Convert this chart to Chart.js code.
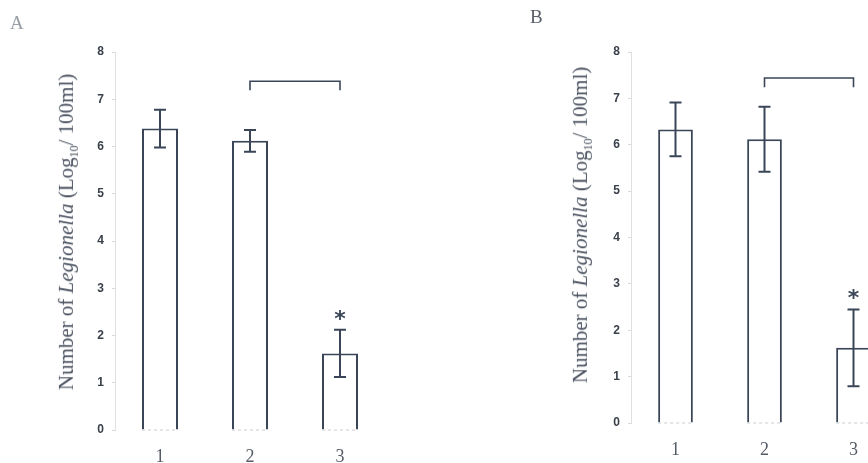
<!DOCTYPE html>
<html>
<head>
<meta charset="utf-8">
<script src="https://cdn.jsdelivr.net/npm/chart.js"></script>
<style>
  html, body { margin: 0; padding: 0; background: #fff; }
  #wrap { position: relative; width: 868px; height: 463px; overflow: hidden; background: #fff; }
  canvas { position: absolute; top: 0; }
  .panel { position: absolute; font-family: "Liberation Serif", serif; font-size: 19px; }
  .ytitle {
    position: absolute; white-space: nowrap;
    font-family: "Liberation Serif", serif; font-size: 21px; color: #4a5260;
    transform: translate(-50%, -50%) rotate(-90deg);
  }
  .ytitle sub { font-size: 12px; }
</style>
</head>
<body>
<div id="wrap">
  <canvas id="chartA" width="434" height="463" style="left:0"></canvas>
  <canvas id="chartB" width="500" height="463" style="left:434px"></canvas>
  <div class="panel" style="left:10px; top:12px; color:#9aa0a8;">A</div>
  <div class="panel" style="left:530px; top:6px; color:#5a606a;">B</div>
  <div class="ytitle" style="left:68px; top:232px;">Number of <i>Legionella</i> (Log<sub>10</sub>/ 100ml)</div>
  <div class="ytitle" style="left:582px; top:225px;">Number of <i>Legionella</i> (Log<sub>10</sub>/ 100ml)</div>
</div>
<script>
// groups on the x axis
const groups = ['1', '2', '3'];
const yTicks = [0, 1, 2, 3, 4, 5, 6, 7, 8];

// panel A
const meansA = [6.38, 6.12, 1.62];
const errA = [0.40, 0.23, 0.50];
// panel B
const meansB = [6.33, 6.12, 1.62];
const errB = [0.58, 0.70, 0.83];

// bracket between group 2 and 3, and significance mark on group 3
const bracketA = [7.38, 7.19];
const bracketB = [7.44, 7.24];
const starIndex = 2;

const ink = '#3a4658';

const errorBars = {
  id: 'errorBars',
  afterDatasetsDraw(chart, args, opts) {
    const ctx = chart.ctx;
    const x = chart.scales.x, y = chart.scales.y;
    ctx.save();
    ctx.strokeStyle = ink;
    ctx.lineWidth = 2;
    opts.means.forEach((m, i) => {
      const cx = x.getPixelForValue(i);
      const top = y.getPixelForValue(m + opts.err[i]);
      const bot = y.getPixelForValue(m - opts.err[i]);
      ctx.beginPath();
      ctx.moveTo(cx, top); ctx.lineTo(cx, bot);
      ctx.moveTo(cx - 6, top); ctx.lineTo(cx + 6, top);
      ctx.moveTo(cx - 6, bot); ctx.lineTo(cx + 6, bot);
      ctx.stroke();
    });
    // faint bottom edges of the bars
    const base = y.getPixelForValue(0);
    ctx.strokeStyle = '#c8ccd2';
    ctx.lineWidth = 1;
    ctx.setLineDash([3, 3]);
    chart.getDatasetMeta(0).data.forEach(b => {
      ctx.beginPath();
      ctx.moveTo(b.x - b.width / 2, base); ctx.lineTo(b.x + b.width / 2, base);
      ctx.stroke();
    });
    ctx.setLineDash([]);
    // bracket
    ctx.strokeStyle = ink;
    const x1 = x.getPixelForValue(1), x2 = x.getPixelForValue(2);
    const by = y.getPixelForValue(opts.bracket[0]);
    const bl = y.getPixelForValue(opts.bracket[1]);
    ctx.lineWidth = 1.6;
    ctx.beginPath();
    ctx.moveTo(x1, bl); ctx.lineTo(x1, by); ctx.lineTo(x2, by); ctx.lineTo(x2, bl);
    ctx.stroke();
    // asterisk
    const si = opts.star;
    const sy = y.getPixelForValue(opts.means[si] + opts.err[si]) - 14;
    ctx.fillStyle = ink;
    ctx.font = 'bold 22px "DejaVu Sans"';
    ctx.textAlign = 'center';
    ctx.textBaseline = 'middle';
    ctx.fillText('*', x.getPixelForValue(si), sy + 4);
    ctx.restore();
  }
};

function makeChart(id, means, err, bracket, yWidth, padRight, bottom, barPct) {
  return new Chart(document.getElementById(id), {
    type: 'bar',
    data: {
      labels: groups,
      datasets: [{
        data: means,
        backgroundColor: '#ffffff',
        borderColor: ink,
        borderWidth: 2,
        borderSkipped: 'bottom',
        barPercentage: barPct,
        categoryPercentage: 1
      }]
    },
    options: {
      responsive: false,
      animation: false,
      layout: { padding: { left: 0, right: padRight, top: 52, bottom: 0 } },
      plugins: {
        legend: { display: false },
        tooltip: { enabled: false },
        errorBars: { means: means, err: err, bracket: bracket, star: starIndex }
      },
      scales: {
        x: {
          grid: { display: false },
          border: { display: false },
          ticks: { color: '#555b66', font: { family: 'Liberation Serif', size: 18 }, padding: 8 },
          afterFit(s) { s.height = bottom; }
        },
        y: {
          min: 0, max: 8,
          afterBuildTicks(s) { s.ticks = yTicks.map(v => ({ value: v })); },
          grid: { drawOnChartArea: false, drawTicks: true, tickLength: 3, color: '#d8d8d8' },
          border: { display: true, color: '#e0e0e0', width: 1, dash: [2, 2] },
          ticks: { color: '#3a404a', font: { family: 'Liberation Sans', size: 12, weight: 'bold' }, padding: 8 },
          afterFit(s) { s.width = yWidth; }
        }
      }
    },
    plugins: [errorBars]
  });
}

makeChart('chartA', meansA, errA, bracketA, 115, 49, 33, 0.4);
makeChart('chartB', meansB, errB, bracketB, 197, 36, 40, 0.39);
</script>
</body>
</html>
